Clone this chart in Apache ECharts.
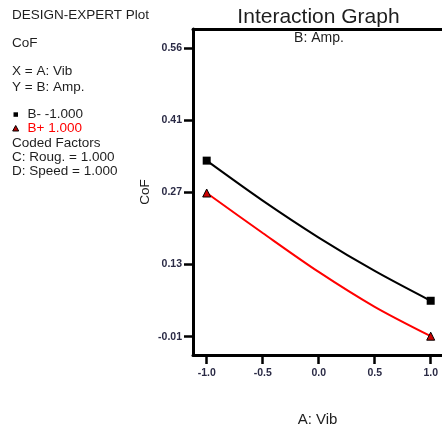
<!DOCTYPE html>
<html>
<head>
<meta charset="utf-8">
<script src="https://cdn.jsdelivr.net/npm/echarts@6/dist/echarts.min.js"></script>
<style>html,body{margin:0;padding:0;background:#fff;}#c{width:442px;height:425px;}</style>
</head>
<body>
<div id="c"></div>
<script>
// Data
var xVals = [-1.0, -0.5, 0.0, 0.5, 1.0];
var bMinus = [0.338, 0.259, 0.186, 0.120, 0.061];   // B- -1.000 (black)
var bPlus  = [0.274, 0.195, 0.118, 0.049, -0.009];  // B+ 1.000 (red)
var xTicks = [-1.0, -0.5, 0.0, 0.5, 1.0];
var xTickLabels = ['-1.0', '-0.5', '0.0', '0.5', '1.0'];
var yTicks = [-0.01, 0.1325, 0.275, 0.4175, 0.56];
var yTickLabels = ['-0.01', '0.13', '0.27', '0.41', '0.56'];
var infoLines = ['DESIGN-EXPERT Plot', 'CoF', 'X = A: Vib', 'Y = B: Amp.'];
var legendLabels = ['B- -1.000', 'B+ 1.000'];
var factorLines = ['Coded Factors', 'C: Roug. = 1.000', 'D: Speed = 1.000'];

function buildData(vals, sym) {
  return xVals.map(function (x, i) {
    return { value: [x, vals[i]], symbol: (i === 0 || i === xVals.length - 1) ? sym : 'none' };
  });
}
function labelFor(ticks, labels) {
  return function (v) {
    for (var i = 0; i < ticks.length; i++) if (Math.abs(ticks[i] - v) < 1e-9) return labels[i];
    return '';
  };
}

var FONT = '"Liberation Sans", Arial, sans-serif';
var TXT = '#1e1e1e';
var infoY = [15, 43.5, 71.5, 87.5];
var factorY = [143.5, 157.3, 171.7];
var graphics = [];
function addText(t, x, y, color) {
  graphics.push({ type: 'text', x: x, y: y, style: { text: t, font: '13.5px ' + FONT, fill: color || TXT, textAlign: 'left', textVerticalAlign: 'middle' } });
}
infoLines.forEach(function (t, i) { addText(t, 12, infoY[i]); });
graphics.push({ type: 'rect', shape: { x: 13.5, y: 112.3, width: 4.5, height: 4.5 }, style: { fill: '#000' } });
addText(legendLabels[0], 27.5, 114.5);
graphics.push({ type: 'polygon', shape: { points: [[15.7, 125.5], [18.7, 131], [12.7, 131]] }, style: { fill: '#b00', stroke: '#000', lineWidth: 1 } });
addText(legendLabels[1], 27.5, 128.3, '#f00');
factorLines.forEach(function (t, i) { addText(t, 12, factorY[i]); });
graphics.push({ type: 'text', x: 318.5, y: 17.5, style: { text: 'Interaction Graph', font: '21px ' + FONT, fill: TXT, textAlign: 'center', textVerticalAlign: 'middle' } });
graphics.push({ type: 'text', x: 319, y: 38.5, style: { text: 'B: Amp.', font: '14px ' + FONT, fill: TXT, textAlign: 'center', textVerticalAlign: 'middle' } });

var chart = echarts.init(document.getElementById('c'));
chart.setOption({
  animation: false,
  backgroundColor: '#fff',
  grid: { left: 193, top: 29, right: 0, bottom: 70, containLabel: false, outerBoundsMode: 'none' },
  graphic: graphics,
  xAxis: [{
    type: 'value', min: -1.1223, max: 1.101,
    name: 'A: Vib', nameLocation: 'middle', nameGap: 57, nameMoveOverlap: false,
    nameTextStyle: { fontFamily: FONT, fontSize: 15, color: TXT },
    axisLine: { show: true, onZero: false, lineStyle: { color: '#000', width: 3 } },
    axisTick: { show: true, length: 9, customValues: xTicks, lineStyle: { color: '#000', width: 2.5 } },
    axisLabel: { customValues: xTicks, formatter: labelFor(xTicks, xTickLabels), margin: 13, fontFamily: FONT, fontSize: 10.5, fontWeight: 'bold', color: '#2a2a45' },
    splitLine: { show: false }
  }, {
    type: 'value', position: 'top', min: -1.1223, max: 1.101,
    axisLine: { show: true, onZero: false, lineStyle: { color: '#000', width: 3 } },
    axisTick: { show: false }, axisLabel: { show: false }, splitLine: { show: false }
  }],
  yAxis: {
    type: 'value', min: -0.0462, max: 0.5982,
    name: 'CoF', nameLocation: 'middle', nameGap: 41, nameRotate: 90, nameMoveOverlap: false,
    nameTextStyle: { fontFamily: FONT, fontSize: 13.5, color: TXT },
    axisLine: { show: true, onZero: false, lineStyle: { color: '#000', width: 3 } },
    axisTick: { show: true, length: 9, customValues: yTicks, lineStyle: { color: '#000', width: 2.5 } },
    axisLabel: { customValues: yTicks, formatter: labelFor(yTicks, yTickLabels), margin: 11, fontFamily: FONT, fontSize: 10.5, fontWeight: 'bold', color: '#2a2a45' },
    splitLine: { show: false }
  },
  series: [
    {
      name: legendLabels[0], type: 'line', data: buildData(bMinus, 'rect'),
      smooth: 0.3, symbolSize: 8, showAllSymbol: true,
      itemStyle: { color: '#000' }, lineStyle: { color: '#000', width: 2 }
    },
    {
      name: legendLabels[1], type: 'line', data: buildData(bPlus, 'triangle'),
      smooth: 0.3, symbolSize: 8, showAllSymbol: true,
      itemStyle: { color: '#c00', borderColor: '#000', borderWidth: 1 }, lineStyle: { color: '#f00', width: 2 }
    }
  ]
});
</script>
</body>
</html>
